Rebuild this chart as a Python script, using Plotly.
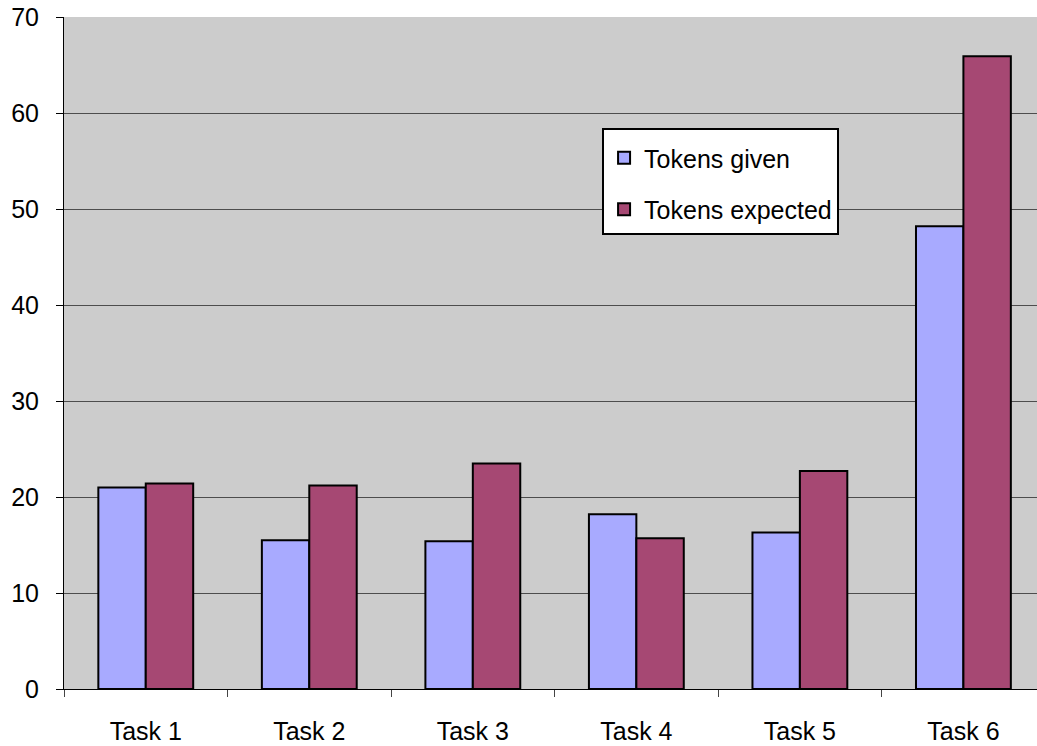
import plotly.graph_objects as go

# Token counts per task
tasks = ["Task 1", "Task 2", "Task 3", "Task 4", "Task 5", "Task 6"]
tokens_given = [21.0, 15.5, 15.4, 18.2, 16.3, 48.2]
tokens_expected = [21.4, 21.2, 23.5, 15.7, 22.7, 65.9]

FONT = "Liberation Sans, Arial, sans-serif"

fig = go.Figure()
fig.add_trace(go.Bar(
    x=tasks, y=tokens_given, name="Tokens given",
    marker=dict(color="#a8aaff", line=dict(color="black", width=2)),
    legendgroup="g1",
))
fig.add_trace(go.Bar(
    x=tasks, y=tokens_expected, name="Tokens expected",
    marker=dict(color="#a64873", line=dict(color="black", width=2)),
    legendgroup="g2",
))

fig.update_layout(
    width=1037, height=746,
    margin=dict(l=64, r=0, t=17, b=57),
    paper_bgcolor="white",
    plot_bgcolor="#cccccc",
    barmode="group",
    bargap=0.42,
    bargroupgap=0,
    font=dict(family=FONT, size=25, color="black"),
    showlegend=True,
    legend=dict(
        x=0.553, y=0.835, xanchor="left", yanchor="top",
        bgcolor="white", bordercolor="black", borderwidth=2,
        font=dict(family=FONT, size=25, color="black"),
        title=dict(text=" ", font=dict(size=4)),
        traceorder="grouped", tracegroupgap=16,
        itemwidth=30,
        itemclick=False,
    ),
    xaxis=dict(
        range=[-0.5, 5.45],
        showline=True, linecolor="black", linewidth=1,
        ticks="outside", tickson="boundaries", ticklen=7, tickcolor="#444",
        showgrid=False,
        ticklabelstandoff=20,
        tickfont=dict(family=FONT, size=25),
    ),
    yaxis=dict(
        range=[0, 70], dtick=10,
        showline=True, linecolor="black", linewidth=1,
        ticks="outside", ticklen=7, tickcolor="black",
        showgrid=True, gridcolor="#4d4d4d", gridwidth=1,
        zeroline=False,
        ticklabelstandoff=12,
        tickfont=dict(family=FONT, size=25),
    ),
)

fig.write_html("out.html")
